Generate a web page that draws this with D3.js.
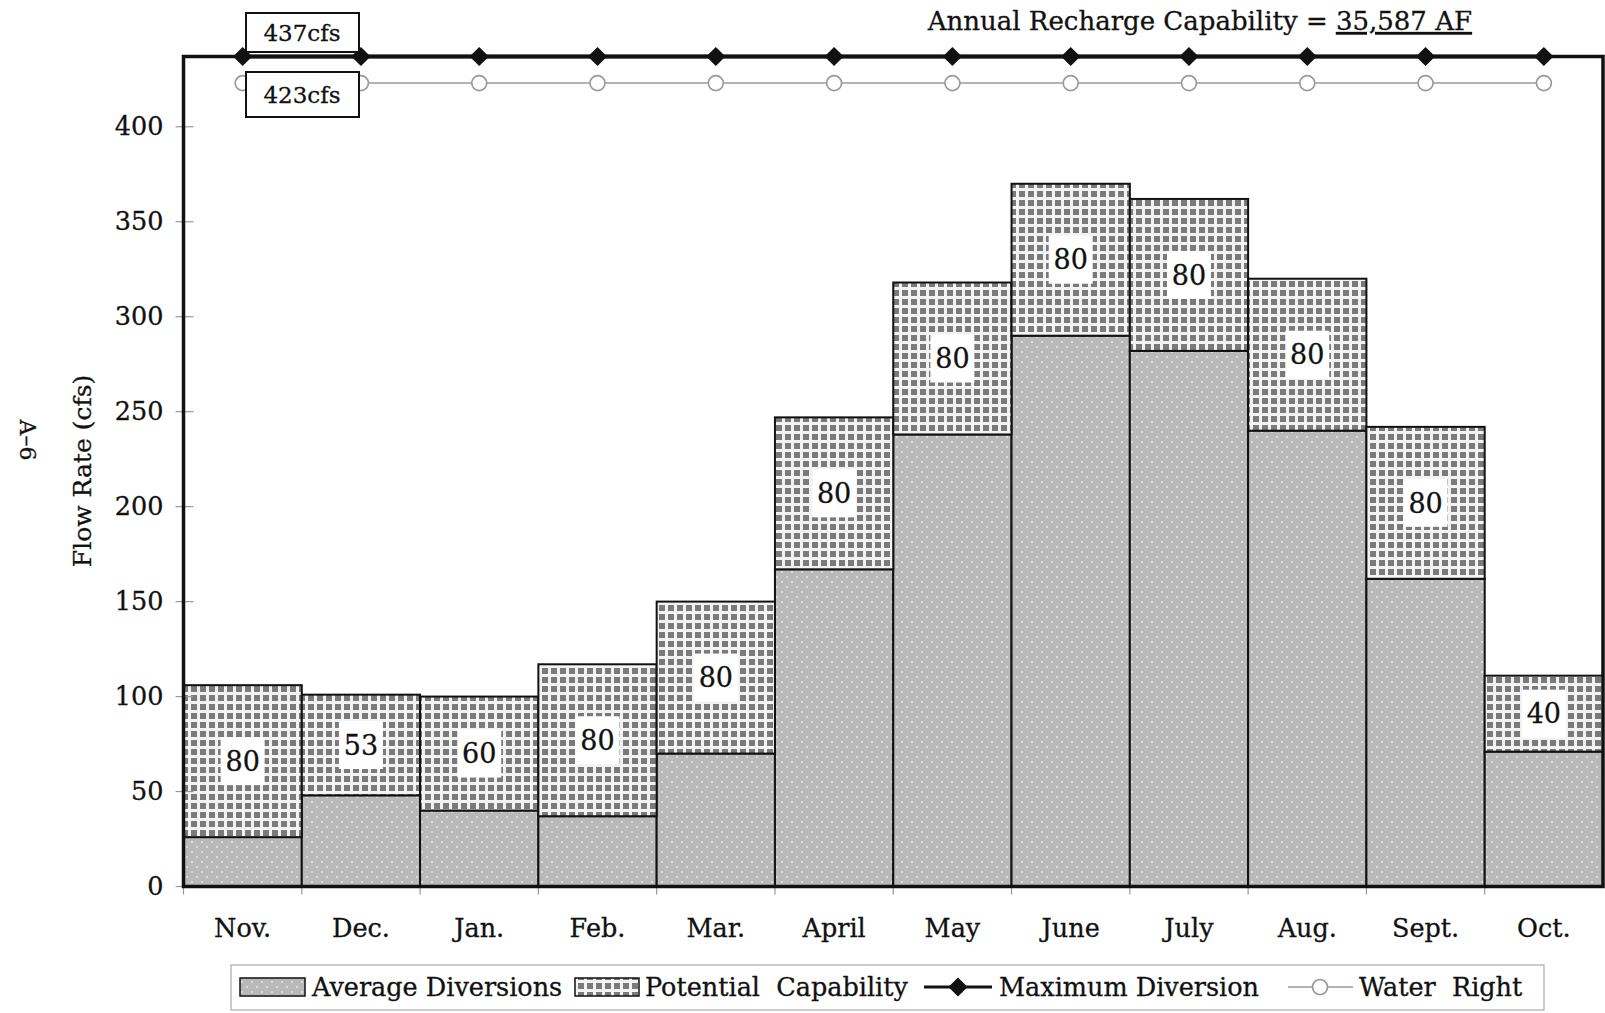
<!DOCTYPE html>
<html>
<head>
<meta charset="utf-8">
<script src="https://cdn.jsdelivr.net/npm/d3@7"></script>
<style>
  body { margin: 0; background: #fff; }
  text { font-family: "DejaVu Serif", "Liberation Serif", serif; fill: #111; stroke: #111; stroke-width: 0.3px; }
</style>
</head>
<body>
<svg id="chart" width="1605" height="1013"></svg>
<script>
// chart values
const months = ["Nov.", "Dec.", "Jan.", "Feb.", "Mar.", "April", "May", "June", "July", "Aug.", "Sept.", "Oct."];
const avgDiversions = [26, 48, 40, 37, 70, 167, 238, 290, 282, 240, 162, 71];
const potentialCapability = [80, 53, 60, 80, 80, 80, 80, 80, 80, 80, 80, 40];
const maxDiversion = [437, 437, 437, 437, 437, 437, 437, 437, 437, 437, 437, 437];
const waterRight = [423, 423, 423, 423, 423, 423, 423, 423, 423, 423, 423, 423];
const yTicks = [0, 50, 100, 150, 200, 250, 300, 350, 400];

const margin = { top: 56.5, right: 2, bottom: 126.5, left: 183.5 };
const width = 1605, height = 1013;

const svg = d3.select("#chart");
const defs = svg.append("defs");

// stippled gray for average diversions
const dots = defs.append("pattern")
  .attr("id", "dots").attr("patternUnits", "userSpaceOnUse")
  .attr("width", 10).attr("height", 10);
dots.append("rect").attr("width", 10).attr("height", 10).attr("fill", "#b9b9b9");
dots.append("circle").attr("cx", 2).attr("cy", 2).attr("r", 1).attr("fill", "#e6e6e6");
dots.append("circle").attr("cx", 7).attr("cy", 7).attr("r", 1).attr("fill", "#e6e6e6");

// checked grid for potential capability
const grid = defs.append("pattern")
  .attr("id", "grid").attr("patternUnits", "userSpaceOnUse")
  .attr("width", 9).attr("height", 9);
grid.append("rect").attr("width", 9).attr("height", 9).attr("fill", "#f2f2f2");
grid.append("rect").attr("x", 2).attr("y", 2).attr("width", 6).attr("height", 6).attr("fill", "#7a7a7a");

const x = d3.scaleBand()
  .domain(months)
  .range([margin.left, width - margin.right])
  .padding(0);

const y = d3.scaleLinear()
  .domain([0, 437])
  .range([height - margin.bottom, margin.top]);

const stackData = months.map((m, i) => ({
  month: m,
  avg: avgDiversions[i],
  pot: potentialCapability[i]
}));
const series = d3.stack().keys(["avg", "pot"])(stackData);
const fills = { avg: "url(#dots)", pot: "url(#grid)" };

// bars
svg.append("g")
  .selectAll("g")
  .data(series)
  .join("g")
  .attr("fill", (s) => fills[s.key])
  .selectAll("rect")
  .data((s) => s)
  .join("rect")
  .attr("x", (d) => x(d.data.month))
  .attr("y", (d) => y(d[1]))
  .attr("width", x.bandwidth())
  .attr("height", (d) => y(d[0]) - y(d[1]))
  .attr("stroke", "#111")
  .attr("stroke-width", 2);

// value boxes in the potential segments
const valueLabels = svg.append("g")
  .selectAll("g")
  .data(series[1])
  .join("g")
  .attr("transform", (d) =>
    "translate(" + (x(d.data.month) + x.bandwidth() / 2) + "," + y((d[0] + d[1]) / 2) + ")");
valueLabels.append("rect")
  .attr("x", -22).attr("y", -24).attr("width", 44).attr("height", 48)
  .attr("fill", "#fff");
valueLabels.append("text")
  .attr("text-anchor", "middle")
  .attr("dy", "0.36em")
  .style("font-size", "27px")
  .text((d) => d.data.pot);

// y axis ticks and labels
const yAxis = d3.axisLeft(y).tickValues(yTicks).tickSize(0).tickPadding(20);
svg.append("g")
  .attr("transform", "translate(" + margin.left + ",0)")
  .call(yAxis)
  .call((g) => g.select(".domain").remove())
  .call((g) => g.selectAll("text").style("font-size", "25.5px").attr("fill", "#111"));

svg.append("g")
  .selectAll("line")
  .data(yTicks)
  .join("line")
  .attr("x1", margin.left - 8).attr("x2", margin.left + 10)
  .attr("y1", (d) => y(d)).attr("y2", (d) => y(d))
  .attr("stroke", "#999").attr("stroke-width", 1.2);

// x axis labels
const xAxis = d3.axisBottom(x).tickSize(0).tickPadding(32);
svg.append("g")
  .attr("transform", "translate(0," + y(0) + ")")
  .call(xAxis)
  .call((g) => g.select(".domain").remove())
  .call((g) => g.selectAll("text").style("font-size", "25.5px").attr("fill", "#111"));

// small ticks at category boundaries
svg.append("g")
  .selectAll("line")
  .data(months)
  .join("line")
  .attr("x1", (d) => x(d)).attr("x2", (d) => x(d))
  .attr("y1", y(0)).attr("y2", y(0) + 8)
  .attr("stroke", "#999").attr("stroke-width", 1.2);

// frame
svg.append("rect")
  .attr("x", margin.left).attr("y", margin.top)
  .attr("width", width - margin.right - margin.left)
  .attr("height", y(0) - margin.top)
  .attr("fill", "none").attr("stroke", "#111").attr("stroke-width", 3.5);

// water right line
const cx = (d, i) => x(months[i]) + x.bandwidth() / 2;
svg.append("path")
  .datum(waterRight)
  .attr("fill", "none").attr("stroke", "#9a9a9a").attr("stroke-width", 1.5)
  .attr("d", d3.line().x(cx).y((d) => y(d)));
svg.append("g")
  .selectAll("circle")
  .data(waterRight)
  .join("circle")
  .attr("cx", cx).attr("cy", (d) => y(d)).attr("r", 7.5)
  .attr("fill", "#fff").attr("stroke", "#9a9a9a").attr("stroke-width", 1.7);

// maximum diversion line
svg.append("path")
  .datum(maxDiversion)
  .attr("fill", "none").attr("stroke", "#111").attr("stroke-width", 4)
  .attr("d", d3.line().x(cx).y((d) => y(d)));
const diamond = d3.symbol().type(d3.symbolSquare).size(185);
svg.append("g")
  .selectAll("path")
  .data(maxDiversion)
  .join("path")
  .attr("transform", (d, i) => "translate(" + cx(d, i) + "," + y(d) + ") rotate(45)")
  .attr("d", diamond)
  .attr("fill", "#111");

// boxed value callouts
function callout(val, yTop, h) {
  const g = svg.append("g");
  g.append("rect")
    .attr("x", 246).attr("y", yTop).attr("width", 113).attr("height", h)
    .attr("fill", "#fff").attr("stroke", "#111").attr("stroke-width", 2);
  g.append("text")
    .attr("x", 302).attr("y", yTop + h / 2).attr("dy", "0.36em")
    .attr("text-anchor", "middle")
    .style("font-size", "23px")
    .text(val + "cfs");
}
callout(maxDiversion[0], 13, 39);
callout(waterRight[0], 72, 45);

// annual recharge note
const note = svg.append("text")
  .attr("x", 1472).attr("y", 30)
  .attr("text-anchor", "end")
  .style("font-size", "26px");
note.append("tspan").text("Annual Recharge Capability = ");
note.append("tspan").style("text-decoration", "underline").text("35,587 AF");

// y axis title
svg.append("text")
  .attr("transform", "translate(91,471) rotate(-90)")
  .attr("text-anchor", "middle")
  .style("font-size", "25px")
  .text("Flow Rate (cfs)");

// page number
svg.append("text")
  .attr("transform", "translate(20,440) rotate(90)")
  .attr("text-anchor", "middle")
  .style("font-size", "22px")
  .text("A–6");

// legend
const legend = svg.append("g");
legend.append("rect")
  .attr("x", 231).attr("y", 965).attr("width", 1313).attr("height", 45)
  .attr("fill", "#fff").attr("stroke", "#aaa").attr("stroke-width", 1.2);
const ly = 987;
legend.append("rect").attr("x", 240).attr("y", ly - 9).attr("width", 65).attr("height", 18)
  .attr("fill", "url(#dots)").attr("stroke", "#111").attr("stroke-width", 1.5);
legend.append("text").attr("x", 312).attr("y", ly).attr("dy", "0.36em")
  .style("font-size", "25.5px").text("Average Diversions");
legend.append("rect").attr("x", 575).attr("y", ly - 9).attr("width", 64).attr("height", 18)
  .attr("fill", "url(#grid)").attr("stroke", "#111").attr("stroke-width", 1.5);
legend.append("text").attr("x", 645).attr("y", ly).attr("dy", "0.36em")
  .style("font-size", "25.5px").attr("xml:space", "preserve").text("Potential  Capability");
legend.append("line").attr("x1", 924).attr("x2", 992).attr("y1", ly).attr("y2", ly)
  .attr("stroke", "#111").attr("stroke-width", 3);
legend.append("path").attr("transform", "translate(958," + ly + ") rotate(45)")
  .attr("d", diamond).attr("fill", "#111");
legend.append("text").attr("x", 999).attr("y", ly).attr("dy", "0.36em")
  .style("font-size", "25.5px").text("Maximum Diversion");
legend.append("line").attr("x1", 1288).attr("x2", 1353).attr("y1", ly).attr("y2", ly)
  .attr("stroke", "#9a9a9a").attr("stroke-width", 1.5);
legend.append("circle").attr("cx", 1320).attr("cy", ly).attr("r", 7.5)
  .attr("fill", "#fff").attr("stroke", "#9a9a9a").attr("stroke-width", 1.7);
legend.append("text").attr("x", 1359).attr("y", ly).attr("dy", "0.36em")
  .style("font-size", "25.5px").attr("xml:space", "preserve").text("Water  Right");
</script>
</body>
</html>
